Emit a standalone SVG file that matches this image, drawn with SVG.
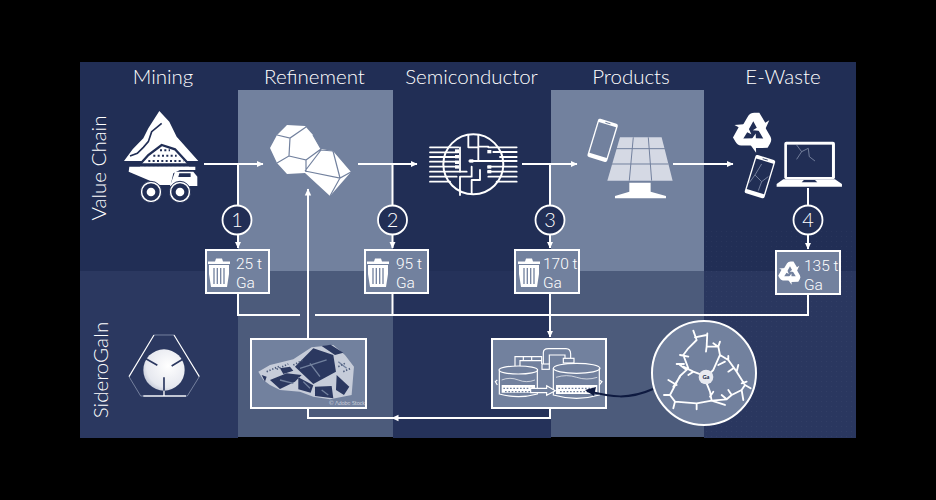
<svg xmlns="http://www.w3.org/2000/svg" width="936" height="500" viewBox="0 0 936 500">
<style>
text{font-family:"Lato","Liberation Sans",sans-serif;font-weight:300;fill:#fff}
.h{font-size:20.500px;text-anchor:middle}
.q{font-family:"Roboto","Liberation Sans",sans-serif;font-size:15.500px}
.n{font-size:20px;text-anchor:middle}
.c{fill:none;stroke:#fff;stroke-width:2}
.b{fill:#72819e;stroke:#fff;stroke-width:2}
.r{fill:#212e55;stroke:#fff;stroke-width:1.800}
.w{fill:#fff}
.l{fill:none;stroke:#fff;stroke-linecap:round;stroke-linejoin:round}
</style>
<defs>
<marker id="a" markerWidth="9" markerHeight="8" refX="6.500" refY="4" orient="auto" markerUnits="userSpaceOnUse"><path d="M0 .8L7 4L0 7.200Z" fill="#fff"/></marker>
<pattern id="d" width="5" height="5" patternUnits="userSpaceOnUse"><rect x="1" y="1" width="1" height="1" fill="#fff" opacity=".035"/></pattern>
<radialGradient id="ball" cx=".6" cy=".4" r=".75"><stop offset="0" stop-color="#fff"/><stop offset=".7" stop-color="#e6e8ef"/><stop offset="1" stop-color="#aab2c6"/></radialGradient>
<g id="trash"><path d="M-10-8H10V1L8 14H-8L-10 1Z M-11-11.500H-4L-3-14.500H3L4-11.500H11V-9H-11Z" fill="#fff"/><path d="M-5-5V11M-1.700-5V11M1.700-5V11M5-5V11" stroke="#72819e" stroke-width="1.300"/></g>
<g id="rec" fill="#fff"><path id="rp" d="M-12-5L-5-17Q-3-20 1-20H6L12-10L16-12.500L11-1.500L-.5-2.500L3.500-5L0-11.500L-5-2.500Z"/><use href="#rp" transform="rotate(120)"/><use href="#rp" transform="rotate(240)"/></g>
<g id="phone"><rect x="-15.500" y="-30" width="31" height="60" rx="3" fill="#fff"/><rect x="-13.500" y="-24.500" width="27" height="48"/><rect x="-4" y="-27.800" width="8" height="1.300"/></g>
</defs>

<rect width="936" height="500" fill="#000"/>
<g id="background">
<rect x="80" y="62" width="776" height="209" fill="#212e55"/>
<rect x="80" y="271" width="158" height="167" fill="#2b3860"/>
<rect x="393" y="271" width="158" height="167" fill="#25325a"/>
<rect x="704" y="271" width="152" height="167" fill="#2a375f"/>
<rect x="704" y="230" width="152" height="208" fill="url(#d)"/>
<rect x="238" y="90" width="155" height="181" fill="#72819e"/>
<rect x="551" y="90" width="153" height="181" fill="#72819e"/>
<rect x="238" y="271" width="155" height="166" fill="#4c5b7b"/>
<rect x="551" y="271" width="153" height="166" fill="#4c5b7b"/>
</g>

<g id="connectors">
<path class="c" d="M204 164H263" marker-end="url(#a)"/>
<path class="c" d="M358 164H417" marker-end="url(#a)"/>
<path class="c" d="M522 164H577" marker-end="url(#a)"/>
<path class="c" d="M673 164H733" marker-end="url(#a)"/>
<path class="c" d="M238 164V248" marker-end="url(#a)"/>
<path class="c" d="M392.500 164V248" marker-end="url(#a)"/>
<path class="c" d="M550 164V248" marker-end="url(#a)"/>
<path class="c" d="M808 188V249" marker-end="url(#a)"/>
<path class="c" d="M238 293V315H300M315 315H808V295"/>
<path class="c" d="M392.500 293V315"/>
<path class="c" d="M550 293V337" marker-end="url(#a)"/>
<path class="c" d="M308 338V189" marker-end="url(#a)"/>
<path class="c" d="M308 408V418H550V409"/>
<path class="c" d="M400 418H392" marker-end="url(#a)"/>
</g>

<g id="headers">
<text class="h" x="163" y="83.500">Mining</text>
<text class="h" x="314.500" y="83.500">Refinement</text>
<text class="h" x="471.500" y="83.500">Semiconductor</text>
<text class="h" x="631" y="83.500">Products</text>
<text class="h" x="783" y="83.500">E-Waste</text>
<text class="h" transform="translate(106,168) rotate(-90)">Value Chain</text>
<text class="h" transform="translate(108,370) rotate(-90)">SideroGaIn</text>
</g>

<g id="mining" transform="translate(80,60) scale(.3333)">
<path class="w" d="M238 153L268 185L290 230L355 303H132L158 268L190 235L205 205Z"/>
<path d="M150 288L172 280L190 262L205 245L215 215L245 190" fill="none" stroke="#212e55" stroke-width="5"/>
<path d="M172 322L205 285L245 255L285 268L335 322Z" fill="#fff" stroke="#212e55" stroke-width="7"/>
<path d="M205 303h105M220 287h70M240 271h30M192 316h130" stroke="#212e55" stroke-width="6" stroke-dasharray="6 7"/>
<path d="M140 314H350" stroke="#212e55" stroke-width="8"/>
<path class="w" d="M148 320H346V330H300L280 340L272 375H240L146 335Z"/>
<path class="w" d="M285 335H340L352 350V378H270Z"/>
<path d="M298 340H332V351H295Z" fill="#212e55"/>
<circle class="w" cx="213" cy="396" r="32" stroke="#212e55" stroke-width="3"/>
<circle class="w" cx="300" cy="396" r="32" stroke="#212e55" stroke-width="3"/>
<circle cx="213" cy="396" r="26" fill="#212e55"/><circle cx="300" cy="396" r="26" fill="#212e55"/>
<circle class="w" cx="213" cy="396" r="13"/><circle class="w" cx="300" cy="396" r="13"/>
</g>

<g id="refinement">
<path class="w" d="M287 125L305 126L313 135L321 149L333 151L351 172L330 196L305 173L287 174L277 163L270 148L277 135Z"/>
<path d="M277 135L290 138L306 127M290 138L289 156L277 163M289 156L306 160L306 172M306 160L321 149L313 135M305 171L340 178L351 172M321 150L305 171M333 151L340 178L330 196M321 150L333 151" fill="none" stroke="#72819e" stroke-width="1.200"/>
</g>

<g id="semiconductor" transform="translate(400,60) scale(.3333)">
<g class="l" stroke-width="5.500">
<circle cx="220" cy="313" r="90" fill="none" stroke="#fff" stroke-width="6"/>
<path d="M90 262H175M90 277H175M90 291H175M90 305H175M90 320H175M90 335H200M90 350H170M90 365H150M265 262H350M280 276H350M300 291H350M208 303H350M265 320H350M265 335H350M265 350H350M290 365H350"/>
<path d="M205 225V262H235V300M235 225V260H265M180 262V335M180 405V350H215V320M215 402V360H240V330"/>
</g>
<g class="w"><rect x="165" y="268" width="12" height="10"/><rect x="165" y="285" width="12" height="10"/><rect x="165" y="302" width="12" height="10"/><rect x="165" y="316" width="12" height="10"/><rect x="262" y="270" width="12" height="10"/><rect x="262" y="316" width="12" height="10"/><rect x="262" y="330" width="12" height="10"/><rect x="208" y="298" width="12" height="10"/></g>
</g>

<g id="products" transform="translate(400,60) scale(.3333)">
<use href="#phone" fill="#72819e" transform="translate(608,241) rotate(17) scale(2)"/>
<path d="M660 232H785L818 362H622Z" fill="#d5d9e4"/>
<path d="M648 266H795M635 312H805M700 232L688 362M745 232L755 362" stroke="#72819e" stroke-width="3"/>
<path class="w" d="M688 368H752V395L798 408V415H645V408L688 395Z"/>
</g>

<g id="ewaste" transform="translate(400,60) scale(.3333)">
<use href="#rec" transform="translate(1060,218) scale(3)"/>
<use href="#phone" fill="#212e55" transform="translate(1080,350) rotate(17) scale(2)"/>
<path d="M1085 312L1065 345L1085 365L1075 392M1065 345L1048 368M1085 365L1105 350" fill="none" stroke="#9aa5bc" stroke-width="2"/>
<rect x="1153" y="245" width="152" height="113" rx="6" fill="#fff"/>
<rect x="1161" y="254" width="135" height="97" fill="#212e55"/>
<path d="M1190 255L1205 275L1190 298M1205 275L1225 265L1228 290L1245 303" fill="none" stroke="#9aa5bc" stroke-width="2"/>
<path class="w" d="M1150 358H1305L1326 372V380H1130V372Z"/>
<path d="M1205 367L1212 360H1245L1252 367Z" fill="#212e55"/>
</g>

<g id="n1"><circle class="r" cx="237" cy="220" r="14.500"/><text class="n" x="237" y="227">1</text></g>
<g id="n2"><circle class="r" cx="392.500" cy="220" r="14.500"/><text class="n" x="392.500" y="227">2</text></g>
<g id="n3"><circle class="r" cx="550" cy="220" r="14.500"/><text class="n" x="550" y="227">3</text></g>
<g id="n4"><circle class="r" cx="808" cy="220" r="14.500"/><text class="n" x="808" y="227">4</text></g>

<g id="q1"><rect class="b" x="206" y="250" width="63" height="43"/><use href="#trash" x="219" y="273"/><text class="q" x="236" y="269">25 t</text><text class="q" x="236" y="288">Ga</text></g>
<g id="q2"><rect class="b" x="365" y="250" width="63" height="43"/><use href="#trash" x="378" y="273"/><text class="q" x="396" y="269">95 t</text><text class="q" x="396" y="288">Ga</text></g>
<g id="q3"><rect class="b" x="515" y="250" width="64" height="43"/><use href="#trash" x="529" y="273"/><text class="q" x="543" y="269">170 t</text><text class="q" x="543" y="288">Ga</text></g>
<g id="q4"><rect class="b" x="776" y="251" width="64" height="43"/><use href="#rec" transform="translate(790,273) scale(.58)"/><text class="q" x="804" y="271">135 t</text><text class="q" x="804" y="290">Ga</text></g>

<g id="siderogain" transform="translate(80,240) scale(.3333)">
<path d="M222 285H282M358 410L322 468H182L147 410" fill="none" stroke="#9aa5bc" stroke-width="2"/>
<path d="M222 285L147 410M282 285L358 410" fill="none" stroke="#fff" stroke-width="3.500"/>
<path d="M190 468H318" stroke="#e8eaf0" stroke-width="4"/>
<circle cx="252" cy="390" r="62" fill="url(#ball)"/>
<path d="M232 376L190 352M275 378L318 352M252 452V412" stroke="#2b3860" stroke-width="5"/>
<path d="M252 452V468" stroke="#fff" stroke-width="4"/>
</g>

<g id="rock"><rect class="b" x="251" y="339" width="115" height="69"/>
<g transform="translate(80,240) scale(.3333)">
<path d="M535 395L570 375L640 358L695 322L760 315L795 345L822 380L815 465L750 478L700 470L660 455L600 450L570 435L550 420Z" fill="#c6ccd9"/>
<path d="M645 380L700 325L760 345L768 395L700 432ZM725 318L765 345L790 338L752 314ZM570 420L600 447L645 425L665 405L620 400ZM655 412L700 436L692 458L655 448ZM705 440L755 438L760 475L705 468ZM770 405L808 440L792 465L768 450ZM545 405L560 410L555 425ZM600 385L630 380L640 392L610 402Z" fill="#2b3860"/>
<path d="M660 385L740 360M690 370L720 410M600 420L640 430M775 365L800 385M725 450L745 465M670 425L690 445" stroke="#72819e" stroke-width="4"/>
<path d="M790 395L812 385M775 380L795 370M640 375L670 360M590 388L625 372M560 395L600 378" stroke="#4c5b7b" stroke-width="5" stroke-dasharray="4 5"/>
</g>
<text x="329" y="405" style="font-size:5.500px">© Adobe Stock</text></g>

<g id="reactor"><rect class="b" x="492" y="339" width="114" height="69"/>
<g transform="translate(480,240) scale(.3333)" fill="none" stroke="#fff" stroke-width="3.500">
<path d="M58 392V462Q115 478 172 462V392"/><ellipse cx="115" cy="390" rx="58" ry="12"/>
<path d="M220 385V465Q290 485 358 465V385"/><ellipse cx="290" cy="385" rx="70" ry="15"/>
<path d="M105 378V350H185V372M120 378V362H185M130 350V362M155 350V362"/>
<path d="M190 372V338Q190 326 205 326H258Q272 326 272 343V355M208 372V345H255V355"/><rect x="186" y="372" width="22" height="16"/><rect x="250" y="355" width="32" height="14"/>
<path d="M65 420Q90 410 115 420T165 420M228 412Q260 402 290 412T352 412" stroke-width="2"/>
<path d="M65 435H165V458H65ZM228 435H352V462H228Z" fill="#fff" stroke="none"/>
<path d="M70 445h90M235 445h110M75 455h80M240 455h100" stroke="#72819e" stroke-width="4" stroke-dasharray="5 5"/>
<path d="M152 445H200V437L226 452L200 466V458H152Z" fill="#72819e"/>
<path d="M52 420L46 425L52 435M358 420L366 425L358 435"/>
</g></g>

<g id="molecule"><circle cx="704" cy="373" r="52" fill="#72819e" stroke="#fff" stroke-width="2"/>
<g transform="translate(480,240) scale(.3333)">
<path class="l" stroke-width="5.500" d="M640 272L650 300L625 325L610 345L625 385L600 408L570 465L585 485L650 490L695 482L740 478L755 465L785 450L795 435L770 395L745 360L720 345L715 320L680 320L682 280M645 292L680 285M680 320L678 335M715 320L700 310M720 345L700 390L680 410L640 395L610 380M625 350L600 345M612 372L590 372M620 390L600 375M590 435L565 420M600 410L580 440M570 465L552 465M585 485L580 505M650 490L650 508M695 482L690 455L680 430M695 482L735 495M700 455L690 470M740 478L725 465M755 465L745 450M785 450L790 480M795 435L812 445M785 430L800 425M770 395L775 375M745 360L745 348M735 365L715 375M760 385L745 395M715 320L720 305M640 395L625 405"/>
<circle cx="678" cy="411" r="22" fill="#e8eaf0"/>
<text x="678" y="417" text-anchor="middle" style="font-size:17px;font-weight:700;fill:#0e1a40">Ga</text>
</g></g>

<g id="capture-arrow">
<path d="M653 389C628 400 612 397 587 391" fill="none" stroke="#0e1a40" stroke-width="2"/>
<path d="M585 390L596 387L594 396Z" fill="#0e1a40"/>
</g>
</svg>
